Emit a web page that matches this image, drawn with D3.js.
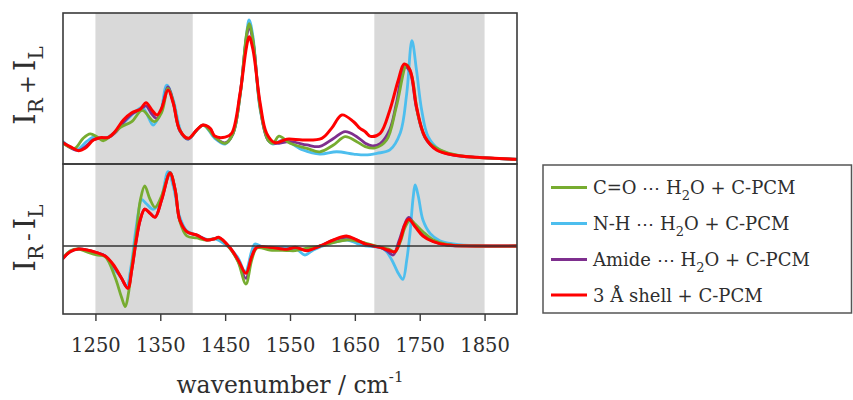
<!DOCTYPE html>
<html>
<head>
<meta charset="utf-8">
<script src="https://cdn.jsdelivr.net/npm/d3@7"></script>
<style>
  html, body { margin: 0; padding: 0; background: #fff; }
  svg { display: block; }
  text { font-family: "DejaVu Serif", serif; fill: #2e2e2e; }
</style>
</head>
<body>
<svg id="chart" width="853" height="400"></svg>
<script>
// Wavenumber range, shaded bands and tick labels
const wavenumberDomain = [1200, 1900];
const shadedBands = [[1250, 1400], [1680, 1850]];
const tickValues = [1250, 1350, 1450, 1550, 1650, 1750, 1850];

const seriesNames = ["C=O", "N-H", "Amide", "3 Å shell"];
const seriesColors = ["#77AC30", "#4DBEEE", "#7E2F8E", "#FF0000"];

// I_R + I_L spectra, [wavenumber, intensity]
const sumCO = [[1200,0.137],[1218,0.104],[1231,0.170],[1242,0.199],[1252,0.181],[1262,0.154],[1272,0.181],[1290,0.247],[1306,0.280],[1322,0.355],[1341,0.280],[1352,0.340],[1362,0.501],[1370,0.41],[1380,0.225],[1393,0.169],[1416,0.258],[1434,0.179],[1450,0.137],[1462,0.20],[1473,0.45],[1483,0.86],[1487,0.93],[1493,0.82],[1504,0.37],[1516,0.16],[1524,0.137],[1533,0.185],[1550,0.137],[1576,0.104],[1596,0.081],[1617,0.126],[1635,0.181],[1653,0.148],[1666,0.115],[1681,0.106],[1699,0.159],[1714,0.380],[1730,0.656],[1738,0.578],[1748,0.313],[1761,0.159],[1781,0.095],[1812,0.055],[1838,0.044],[1900,0.031]];
const sumNH = [[1200,0.148],[1221,0.093],[1236,0.148],[1249,0.181],[1262,0.164],[1278,0.203],[1298,0.291],[1322,0.375],[1329,0.335],[1339,0.258],[1350,0.336],[1360,0.523],[1370,0.424],[1383,0.203],[1393,0.164],[1416,0.258],[1434,0.170],[1450,0.132],[1462,0.20],[1473,0.45],[1483,0.86],[1487,0.955],[1493,0.84],[1504,0.36],[1516,0.159],[1524,0.132],[1540,0.159],[1570,0.093],[1596,0.066],[1622,0.081],[1648,0.066],[1666,0.060],[1684,0.071],[1704,0.093],[1720,0.205],[1730,0.468],[1738,0.817],[1745,0.623],[1753,0.358],[1763,0.181],[1781,0.093],[1812,0.053],[1838,0.044],[1900,0.031]];
const sumAmide = [[1200,0.141],[1224,0.09],[1247,0.16],[1257,0.172],[1270,0.175],[1280,0.205],[1293,0.275],[1306,0.33],[1319,0.36],[1328,0.385],[1337,0.33],[1345,0.30],[1352,0.36],[1362,0.51],[1370,0.41],[1380,0.22],[1393,0.165],[1406,0.225],[1416,0.258],[1427,0.232],[1434,0.18],[1450,0.14],[1462,0.20],[1473,0.46],[1483,0.84],[1487,0.905],[1493,0.81],[1504,0.38],[1516,0.16],[1527,0.137],[1550,0.148],[1576,0.126],[1596,0.116],[1617,0.169],[1635,0.214],[1653,0.181],[1666,0.138],[1677,0.12],[1689,0.135],[1704,0.23],[1714,0.40],[1727,0.645],[1735,0.61],[1745,0.37],[1758,0.175],[1776,0.095],[1802,0.058],[1838,0.044],[1900,0.031]];
const sumShell = [[1200,0.141],[1211,0.115],[1224,0.088],[1234,0.104],[1247,0.159],[1257,0.174],[1270,0.177],[1280,0.214],[1293,0.291],[1306,0.340],[1319,0.362],[1328,0.406],[1337,0.358],[1345,0.325],[1352,0.369],[1362,0.490],[1370,0.402],[1380,0.225],[1393,0.170],[1406,0.225],[1416,0.258],[1427,0.236],[1434,0.185],[1450,0.178],[1460,0.203],[1473,0.468],[1483,0.777],[1487,0.843],[1493,0.755],[1504,0.402],[1514,0.203],[1527,0.141],[1545,0.164],[1570,0.159],[1599,0.170],[1614,0.236],[1630,0.325],[1648,0.280],[1658,0.236],[1666,0.214],[1674,0.183],[1689,0.203],[1704,0.358],[1717,0.556],[1726,0.662],[1735,0.623],[1745,0.380],[1758,0.181],[1776,0.093],[1802,0.060],[1838,0.044],[1900,0.031]];

// I_R - I_L spectra, [wavenumber, intensity]
const diffCO = [[1200,-0.12],[1211,-0.05],[1224,-0.03],[1237,-0.06],[1252,-0.09],[1265,-0.107],[1280,-0.307],[1290,-0.507],[1296,-0.607],[1301,-0.47],[1306,-0.207],[1313,0.12],[1319,0.45],[1326,0.60],[1334,0.47],[1342,0.387],[1352,0.50],[1365,0.73],[1373,0.56],[1380,0.25],[1391,0.10],[1406,0.08],[1422,0.06],[1434,0.073],[1440,0.08],[1457,-0.02],[1470,-0.16],[1482,-0.38],[1491,-0.14],[1499,-0.02],[1519,-0.04],[1545,-0.045],[1558,-0.047],[1576,-0.02],[1596,0],[1617,0.033],[1637,0.06],[1653,0.05],[1666,0.03],[1689,-0.01],[1702,-0.03],[1712,-0.057],[1720,0.04],[1727,0.18],[1735,0.26],[1743,0.22],[1755,0.143],[1771,0.06],[1792,0.015],[1838,0],[1900,0]];
const diffNH = [[1200,-0.12],[1211,-0.05],[1224,-0.03],[1237,-0.04],[1252,-0.07],[1265,-0.10],[1278,-0.223],[1290,-0.32],[1298,-0.407],[1305,-0.2],[1312,0.15],[1318,0.40],[1321,0.467],[1329,0.42],[1339,0.367],[1350,0.45],[1362,0.743],[1370,0.6],[1380,0.29],[1391,0.15],[1406,0.11],[1422,0.065],[1434,0.072],[1442,0.05],[1457,-0.02],[1470,-0.12],[1481,-0.257],[1491,-0.05],[1496,0.02],[1509,-0.013],[1545,-0.013],[1560,-0.03],[1573,-0.09],[1586,-0.04],[1612,0.027],[1637,0.06],[1653,0.027],[1666,0],[1689,-0.013],[1698,-0.05],[1707,-0.14],[1717,-0.273],[1724,-0.333],[1730,-0.14],[1735,0.127],[1740,0.493],[1743,0.61],[1748,0.493],[1755,0.26],[1766,0.127],[1781,0.053],[1802,0.02],[1838,0],[1900,0]];
const diffAmide = [[1200,-0.125],[1211,-0.057],[1224,-0.03],[1237,-0.04],[1252,-0.067],[1265,-0.10],[1278,-0.2],[1290,-0.32],[1300,-0.42],[1306,-0.24],[1313,0.06],[1319,0.26],[1326,0.37],[1334,0.33],[1342,0.29],[1352,0.46],[1365,0.735],[1373,0.56],[1380,0.26],[1391,0.14],[1406,0.11],[1422,0.06],[1434,0.073],[1440,0.085],[1457,-0.015],[1470,-0.15],[1482,-0.323],[1491,-0.11],[1499,-0.013],[1519,-0.02],[1545,-0.035],[1558,-0.02],[1576,-0.04],[1596,0],[1617,0.06],[1637,0.087],[1653,0.06],[1666,0.02],[1689,-0.015],[1700,-0.05],[1709,-0.09],[1718,0.05],[1727,0.22],[1733,0.287],[1743,0.205],[1755,0.11],[1771,0.045],[1792,0.01],[1838,0],[1900,0]];
const diffShell = [[1200,-0.123],[1211,-0.057],[1224,-0.03],[1237,-0.04],[1252,-0.067],[1265,-0.10],[1278,-0.19],[1290,-0.32],[1300,-0.423],[1306,-0.24],[1313,0.06],[1319,0.26],[1326,0.367],[1334,0.327],[1342,0.287],[1352,0.46],[1365,0.727],[1373,0.56],[1380,0.26],[1391,0.143],[1406,0.11],[1422,0.06],[1434,0.073],[1440,0.087],[1457,-0.013],[1470,-0.14],[1482,-0.273],[1491,-0.107],[1499,-0.013],[1519,-0.013],[1545,-0.033],[1558,-0.013],[1576,-0.047],[1596,0],[1617,0.06],[1637,0.10],[1653,0.06],[1666,0.02],[1689,-0.013],[1701,-0.04],[1712,-0.057],[1720,0.06],[1727,0.21],[1733,0.267],[1743,0.193],[1755,0.10],[1771,0.043],[1792,0.01],[1838,0],[1900,0]];

const sumSeries = [sumCO, sumNH, sumAmide, sumShell];
const diffSeries = [diffCO, diffNH, diffAmide, diffShell];
const drawOrder = [1, 2, 0, 3];

const svg = d3.select("#chart");
const left = 63, right = 517;
const topPanel = { y0: 13, y1: 164 };
const botPanel = { y0: 164, y1: 314 };

const x = d3.scaleLinear().domain(wavenumberDomain).range([left, right]);
const ySum = d3.scaleLinear().domain([0, 1]).range([topPanel.y1, topPanel.y0]);
const yDiff = d3.scaleLinear().domain([-0.68, 0.82]).range([botPanel.y1, botPanel.y0]);

// shaded spectral regions across both panels
svg.append("g").selectAll("rect").data(shadedBands).join("rect")
  .attr("x", d => x(d[0])).attr("width", d => x(d[1]) - x(d[0]))
  .attr("y", topPanel.y0).attr("height", botPanel.y1 - topPanel.y0)
  .attr("fill", "#d9d9d9");

const defs = svg.append("defs");
[["clipTop", topPanel], ["clipBot", botPanel]].forEach(([id, p]) => {
  defs.append("clipPath").attr("id", id).append("rect")
    .attr("x", left).attr("y", p.y0).attr("width", right - left).attr("height", p.y1 - p.y0);
});

function drawPanel(series, y, clipId) {
  const line = d3.line().x(d => x(d[0])).y(d => y(d[1])).curve(d3.curveCatmullRom.alpha(0.5));
  const g = svg.append("g").attr("clip-path", `url(#${clipId})`);
  drawOrder.forEach(i => {
    g.append("path").attr("d", line(series[i]))
      .attr("fill", "none").attr("stroke", seriesColors[i])
      .attr("stroke-width", i === 3 ? 3 : 2.8)
      .attr("stroke-linejoin", "round").attr("stroke-linecap", "round");
  });
}
drawPanel(sumSeries, ySum, "clipTop");
drawPanel(diffSeries, yDiff, "clipBot");

// zero line of the difference spectrum
svg.append("line").attr("x1", left).attr("x2", right)
  .attr("y1", yDiff(0)).attr("y2", yDiff(0))
  .attr("stroke", "#333").attr("stroke-width", 1.5);

// panel frames
[topPanel, botPanel].forEach(p => {
  svg.append("rect").attr("x", left).attr("y", p.y0)
    .attr("width", right - left).attr("height", p.y1 - p.y0)
    .attr("fill", "none").attr("stroke", "#3a3a3a").attr("stroke-width", 1.6);
});

// wavenumber axis
const axis = svg.append("g").attr("transform", `translate(0,${botPanel.y1})`)
  .call(d3.axisBottom(x).tickValues(tickValues).tickSize(7).tickFormat(d3.format("d")));
axis.select(".domain").remove();
axis.selectAll(".tick line").attr("stroke", "#3a3a3a").attr("stroke-width", 1.4);
axis.selectAll(".tick text").attr("y", 38).attr("dy", 0)
  .style("font-family", "DejaVu Serif").style("font-size", "19.5px").attr("fill", "#2e2e2e");

const xLabel = svg.append("text").attr("x", (left + right) / 2).attr("y", 393)
  .attr("text-anchor", "middle").style("font-size", "23.5px");
xLabel.append("tspan").text("wavenumber / cm");
xLabel.append("tspan").attr("dy", -11).style("font-size", "15px").text("-1");

// vertical axis titles
function yTitle(cy, op) {
  const t = svg.append("text").attr("transform", `translate(35,${cy}) rotate(-90)`)
    .attr("text-anchor", "middle").style("font-size", "29px");
  t.append("tspan").text("I");
  t.append("tspan").attr("dy", 8).style("font-size", "20px").text("R");
  t.append("tspan").attr("dy", -8).attr("dx", 4).style("font-size", "23px").text(op);
  t.append("tspan").attr("dx", 4).text("I");
  t.append("tspan").attr("dy", 8).style("font-size", "20px").text("L");
}
yTitle((topPanel.y0 + topPanel.y1) / 2 - 3, "+");
yTitle((botPanel.y0 + botPanel.y1) / 2 - 1, "-");

// legend
const legend = svg.append("g");
legend.append("rect").attr("x", 543).attr("y", 165).attr("width", 308.5).attr("height", 148)
  .attr("fill", "#fff").attr("stroke", "#555").attr("stroke-width", 1.5);
const legendRows = [187.5, 223.5, 259.5, 295];
seriesNames.forEach((name, i) => {
  const ly = legendRows[i];
  legend.append("line").attr("x1", 551).attr("x2", 587).attr("y1", ly).attr("y2", ly)
    .attr("stroke", seriesColors[i]).attr("stroke-width", 2.8);
  const t = legend.append("text").attr("x", 593).attr("y", ly + 6.5).style("font-size", "18px");
  if (i < 3) {
    t.append("tspan").text(name + " \u22EF H");
    t.append("tspan").attr("dy", 6).style("font-size", "13px").text("2");
    t.append("tspan").attr("dy", -6).text("O + C-PCM");
  } else {
    t.append("tspan").text(name + " + C-PCM");
  }
});
</script>
</body>
</html>
